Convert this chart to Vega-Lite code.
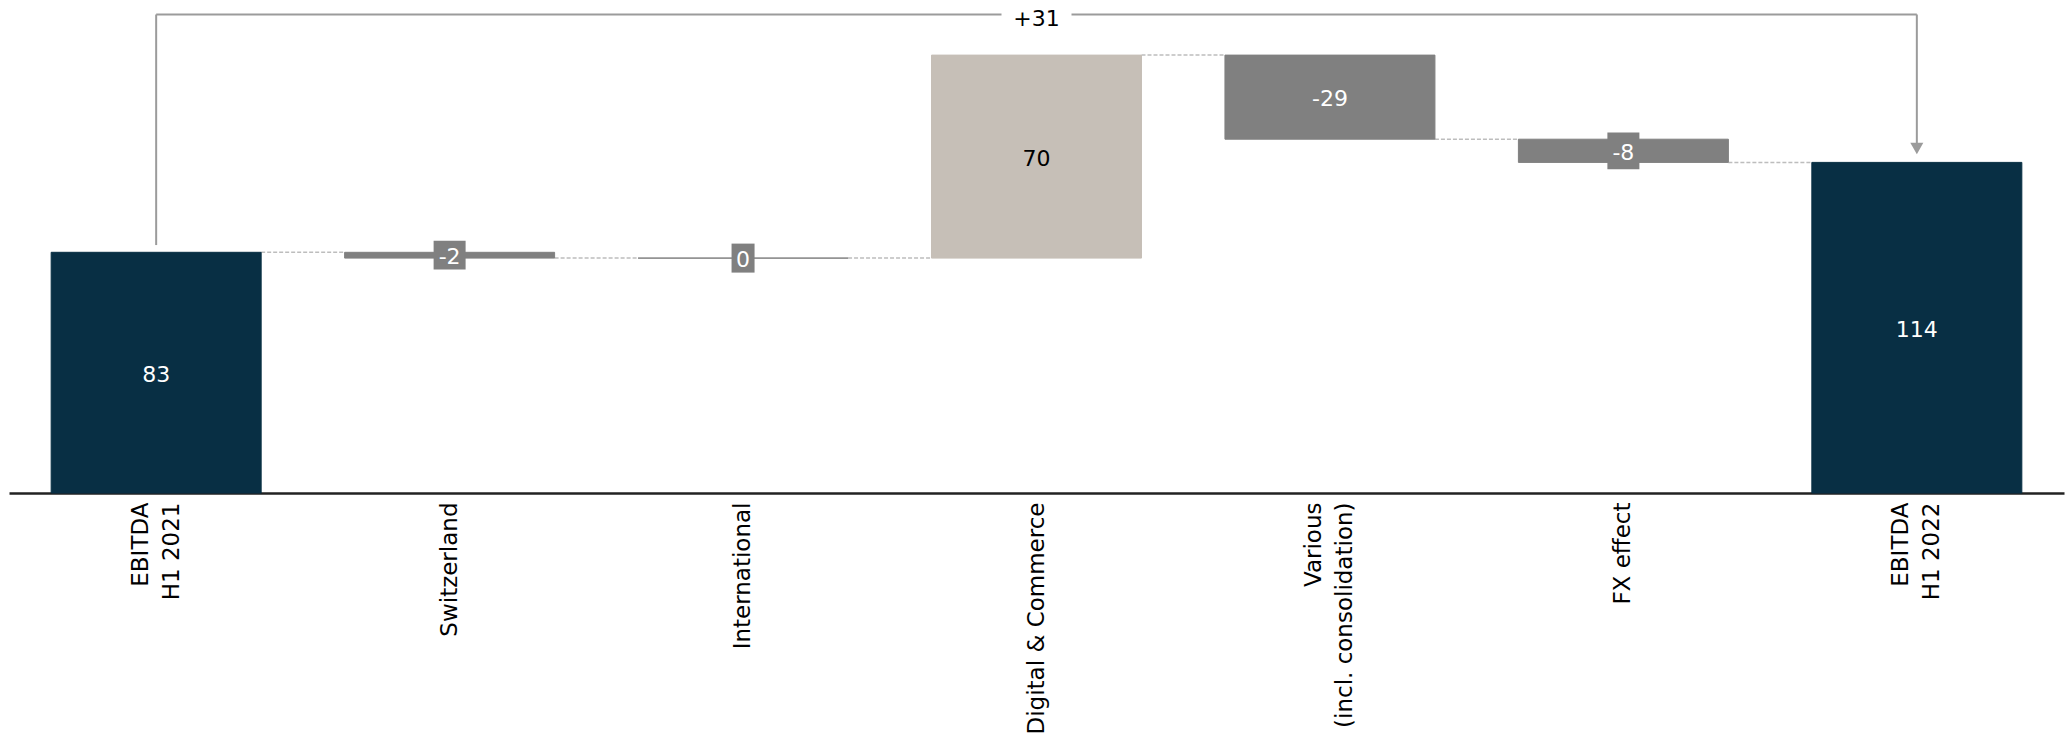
{
  "$schema": "https://vega.github.io/schema/vega-lite/v6.json",
  "width": 2055,
  "height": 493,
  "autosize": {"type": "none"},
  "padding": {"left": 9, "top": 0, "right": 5, "bottom": 246},
  "background": "#ffffff",
  "config": {
    "view": {"stroke": null},
    "font": "DejaVu Sans",
    "locale": {
      "number": {"decimal": ".", "thousands": ",", "grouping": [3], "currency": ["$", ""], "minus": "-"}
    },
    "axisX": {
      "grid": false,
      "ticks": false,
      "domain": true,
      "domainColor": "#222222",
      "domainWidth": 2.5,
      "labelAngle": 270,
      "labelAlign": "right",
      "labelBaseline": "middle",
      "labelPadding": 9,
      "labelFont": "DejaVu Sans",
      "labelFontSize": 23,
      "labelColor": "#000000",
      "labelLimit": 400,
      "labelLineHeight": 31,
      "labelOverlap": false
    }
  },
  "datasets": {
    "steps": [
      {"category": "EBITDA|H1 2021", "kind": "total", "value": 83, "start": 0, "end": 83, "next": "Switzerland"},
      {"category": "Switzerland", "kind": "decrease", "value": -2, "start": 83, "end": 81, "next": "International"},
      {"category": "International", "kind": "decrease", "value": 0, "start": 81, "end": 81, "next": "Digital & Commerce"},
      {"category": "Digital & Commerce", "kind": "increase", "value": 70, "start": 81, "end": 151, "next": "Various|(incl. consolidation)"},
      {"category": "Various|(incl. consolidation)", "kind": "decrease", "value": -29, "start": 151, "end": 122, "next": "FX effect"},
      {"category": "FX effect", "kind": "decrease", "value": -8, "start": 122, "end": 114, "next": "EBITDA|H1 2022"},
      {"category": "EBITDA|H1 2022", "kind": "total", "value": 114, "start": 0, "end": 114, "next": null}
    ],
    "bridge": [
      {"from": "EBITDA|H1 2021", "to": "EBITDA|H1 2022", "middle": "Digital & Commerce", "change": 31}
    ]
  },
  "data": {"name": "steps"},
  "layer": [
    {
      "transform": [{"filter": "datum.next != null"}],
      "mark": {"type": "rule", "color": "#bdbdbd", "strokeWidth": 1.5, "strokeDash": [4, 2]},
      "encoding": {
        "x": {"field": "category", "type": "nominal", "bandPosition": 1, "axis": {"title": null, "labelExpr": "split(datum.label, '|')", "labelOffset": {"condition": {"test": "indexof(datum.value, '|') >= 0", "value": -15.5}, "value": 0}}},
        "x2": {"field": "next", "bandPosition": 0},
        "y": {"field": "end", "type": "quantitative", "axis": null}
      }
    },
    {
      "mark": {"type": "bar", "strokeWidth": 1},
      "encoding": {
        "x": {
          "field": "category",
          "type": "nominal",
          "scale": {
            "type": "band",
            "domain": ["EBITDA|H1 2021", "Switzerland", "International", "Digital & Commerce", "Various|(incl. consolidation)", "FX effect", "EBITDA|H1 2022"],
            "paddingInner": 0.2844,
            "paddingOuter": 0.1437
          },
          "axis": {"title": null, "labelExpr": "split(datum.label, '|')", "labelOffset": {"condition": {"test": "indexof(datum.value, '|') >= 0", "value": -15.5}, "value": 0}}
        },
        "y": {"field": "start", "type": "quantitative", "scale": {"domain": [0, 170], "nice": false}, "axis": null},
        "y2": {"field": "end"},
        "color": {
          "field": "kind", "type": "nominal",
          "scale": {"domain": ["total", "increase", "decrease"], "range": ["#082f44", "#c6bfb7", "#808080"]},
          "legend": null
        },
        "stroke": {
          "field": "kind", "type": "nominal",
          "scale": {"domain": ["total", "increase", "decrease"], "range": ["#082f44", "#c6bfb7", "#808080"]},
          "legend": null
        }
      }
    },
    {
      "transform": [
        {"filter": {"field": "category", "oneOf": ["Switzerland", "International", "FX effect"]}},
        {"fold": ["start", "end"], "as": ["edge", "level"]}
      ],
      "mark": {"type": "point", "filled": true, "opacity": 1, "color": "#808080", "strokeWidth": 0, "size": 1347},
      "encoding": {
        "x": {"field": "category", "type": "nominal", "axis": {"title": null, "labelExpr": "split(datum.label, '|')", "labelOffset": {"condition": {"test": "indexof(datum.value, '|') >= 0", "value": -15.5}, "value": 0}}},
        "y": {"aggregate": "mean", "field": "level", "type": "quantitative", "axis": null},
        "shape": {
          "field": "category", "type": "nominal",
          "scale": {
            "domain": ["Switzerland", "International", "FX effect"],
            "range": ["M-0.872,-0.782H0.872V0.782H-0.872Z", "M-0.627,-0.79H0.627V0.79H-0.627Z", "M-0.872,-1H0.872V1H-0.872Z"]
          },
          "legend": null
        }
      }
    },
    {
      "transform": [{"fold": ["start", "end"], "as": ["edge", "level"]}],
      "mark": {"type": "text", "fontSize": 22, "align": "center", "baseline": "middle", "dy": 2},
      "encoding": {
        "x": {"field": "category", "type": "nominal", "axis": {"title": null, "labelExpr": "split(datum.label, '|')", "labelOffset": {"condition": {"test": "indexof(datum.value, '|') >= 0", "value": -15.5}, "value": 0}}},
        "y": {"aggregate": "mean", "field": "level", "type": "quantitative", "axis": null},
        "text": {"field": "value", "type": "quantitative", "format": "d"},
        "fill": {
          "field": "kind", "type": "nominal",
          "scale": {"domain": ["total", "increase", "decrease"], "range": ["#ffffff", "#000000", "#ffffff"]},
          "legend": null
        }
      }
    },
    {
      "data": {"name": "bridge"},
      "mark": {"type": "rule", "color": "#9b9b9b", "strokeWidth": 2},
      "encoding": {
        "x": {"field": "from", "type": "nominal", "axis": {"title": null, "labelExpr": "split(datum.label, '|')", "labelOffset": {"condition": {"test": "indexof(datum.value, '|') >= 0", "value": -15.5}, "value": 0}}},
        "x2": {"field": "to"},
        "y": {"datum": 165, "type": "quantitative", "axis": null}
      }
    },
    {
      "data": {"name": "bridge"},
      "mark": {"type": "rule", "color": "#9b9b9b", "strokeWidth": 2},
      "encoding": {
        "x": {"field": "from", "type": "nominal", "axis": {"title": null, "labelExpr": "split(datum.label, '|')", "labelOffset": {"condition": {"test": "indexof(datum.value, '|') >= 0", "value": -15.5}, "value": 0}}},
        "y": {"datum": 85.5, "type": "quantitative", "axis": null},
        "y2": {"datum": 165}
      }
    },
    {
      "data": {"name": "bridge"},
      "mark": {"type": "rule", "color": "#9b9b9b", "strokeWidth": 2},
      "encoding": {
        "x": {"field": "to", "type": "nominal", "axis": {"title": null, "labelExpr": "split(datum.label, '|')", "labelOffset": {"condition": {"test": "indexof(datum.value, '|') >= 0", "value": -15.5}, "value": 0}}},
        "y": {"datum": 120, "type": "quantitative", "axis": null},
        "y2": {"datum": 165}
      }
    },
    {
      "data": {"name": "bridge"},
      "mark": {"type": "point", "shape": "triangle-down", "filled": true, "opacity": 1, "color": "#9b9b9b", "strokeWidth": 0, "size": 170},
      "encoding": {
        "x": {"field": "to", "type": "nominal", "axis": {"title": null, "labelExpr": "split(datum.label, '|')", "labelOffset": {"condition": {"test": "indexof(datum.value, '|') >= 0", "value": -15.5}, "value": 0}}},
        "y": {"datum": 118.8, "type": "quantitative", "axis": null}
      }
    },
    {
      "data": {"name": "bridge"},
      "mark": {"type": "point", "shape": "M-1,-0.4H1V0.4H-1Z", "filled": true, "opacity": 1, "color": "#ffffff", "strokeWidth": 0, "size": 4900},
      "encoding": {
        "x": {"field": "middle", "type": "nominal", "axis": {"title": null, "labelExpr": "split(datum.label, '|')", "labelOffset": {"condition": {"test": "indexof(datum.value, '|') >= 0", "value": -15.5}, "value": 0}}},
        "y": {"datum": 165, "type": "quantitative", "axis": null}
      }
    },
    {
      "data": {"name": "bridge"},
      "mark": {"type": "text", "fontSize": 22, "align": "center", "baseline": "middle", "dy": 4, "color": "#000000"},
      "encoding": {
        "x": {"field": "middle", "type": "nominal", "axis": {"title": null, "labelExpr": "split(datum.label, '|')", "labelOffset": {"condition": {"test": "indexof(datum.value, '|') >= 0", "value": -15.5}, "value": 0}}},
        "y": {"datum": 165, "type": "quantitative", "axis": null},
        "text": {"field": "change", "type": "quantitative", "format": "+d"}
      }
    }
  ]
}
